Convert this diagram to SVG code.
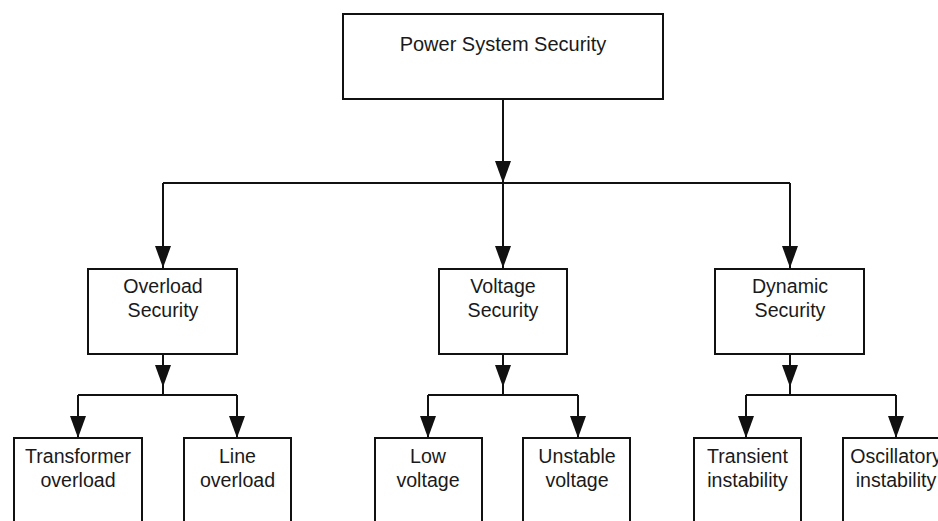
<svg xmlns="http://www.w3.org/2000/svg" width="938" height="521" viewBox="0 0 938 521">
  <style>
    .box { fill: #ffffff; stroke: #111111; stroke-width: 2; }
    .lbl { font-family: "Liberation Sans", Arial, sans-serif; font-size: 19.6px; fill: #1a1a1a; text-anchor: middle; }
    .top { font-size: 20px; }
    .wire { fill: none; stroke: #111111; stroke-width: 2; }
    .arrow { fill: none; stroke: #111111; stroke-width: 2; marker-end: url(#head); }
  </style>
  <defs>
    <marker id="head" markerUnits="userSpaceOnUse" markerWidth="22" markerHeight="16" refX="22" refY="8" orient="auto">
      <path d="M0,0 L22,8 L0,16 Z" fill="#111111"/>
    </marker>
  </defs>
  <rect width="938" height="521" fill="#ffffff"/>

  <!-- connectors -->
  <g id="connectors">
    <!-- root to second level -->
    <path class="arrow" d="M503,99 V183"/>
    <path class="wire" d="M163,183 H790"/>
    <path class="arrow" d="M503,183 V268"/>
    <path class="arrow" d="M163,183 V268"/>
    <path class="arrow" d="M790,183 V268"/>
    <!-- overload branch -->
    <path class="arrow" d="M163,354 V387"/>
    <path class="wire" d="M163,386 V395 M78,395 H237"/>
    <path class="arrow" d="M78,395 V438"/>
    <path class="arrow" d="M237,395 V438"/>
    <!-- voltage branch -->
    <path class="arrow" d="M503,354 V387"/>
    <path class="wire" d="M503,386 V395 M428,395 H578"/>
    <path class="arrow" d="M428,395 V438"/>
    <path class="arrow" d="M578,395 V438"/>
    <!-- dynamic branch -->
    <path class="arrow" d="M790,354 V387"/>
    <path class="wire" d="M790,386 V395 M746,395 H896"/>
    <path class="arrow" d="M746,395 V438"/>
    <path class="arrow" d="M896,395 V438"/>
  </g>

  <g id="power-system-security">
    <rect class="box" x="343" y="14" width="320" height="85"/>
    <text class="lbl top" x="503" y="51">Power System Security</text>
  </g>

  <g id="overload-security">
    <rect class="box" x="88" y="269" width="149" height="85"/>
    <text class="lbl" x="163" y="293">Overload</text>
    <text class="lbl" x="163" y="317">Security</text>
  </g>

  <g id="voltage-security">
    <rect class="box" x="439" y="269" width="128" height="85"/>
    <text class="lbl" x="503" y="293">Voltage</text>
    <text class="lbl" x="503" y="317">Security</text>
  </g>

  <g id="dynamic-security">
    <rect class="box" x="715" y="269" width="149" height="85"/>
    <text class="lbl" x="790" y="293">Dynamic</text>
    <text class="lbl" x="790" y="317">Security</text>
  </g>

  <g id="transformer-overload">
    <rect class="box" x="14" y="438" width="128" height="100"/>
    <text class="lbl" x="78" y="463">Transformer</text>
    <text class="lbl" x="78" y="487">overload</text>
  </g>

  <g id="line-overload">
    <rect class="box" x="184" y="438" width="107" height="100"/>
    <text class="lbl" x="237.5" y="463">Line</text>
    <text class="lbl" x="237.5" y="487">overload</text>
  </g>

  <g id="low-voltage">
    <rect class="box" x="375" y="438" width="107" height="100"/>
    <text class="lbl" x="428" y="463">Low</text>
    <text class="lbl" x="428" y="487">voltage</text>
  </g>

  <g id="unstable-voltage">
    <rect class="box" x="523" y="438" width="107" height="100"/>
    <text class="lbl" x="577" y="463">Unstable</text>
    <text class="lbl" x="577" y="487">voltage</text>
  </g>

  <g id="transient-instability">
    <rect class="box" x="694" y="438" width="107" height="100"/>
    <text class="lbl" x="747.5" y="463">Transient</text>
    <text class="lbl" x="747.5" y="487">instability</text>
  </g>

  <g id="oscillatory-instability">
    <rect class="box" x="843" y="438" width="107" height="100"/>
    <text class="lbl" x="896" y="463">Oscillatory</text>
    <text class="lbl" x="896" y="487">instability</text>
  </g>
</svg>
